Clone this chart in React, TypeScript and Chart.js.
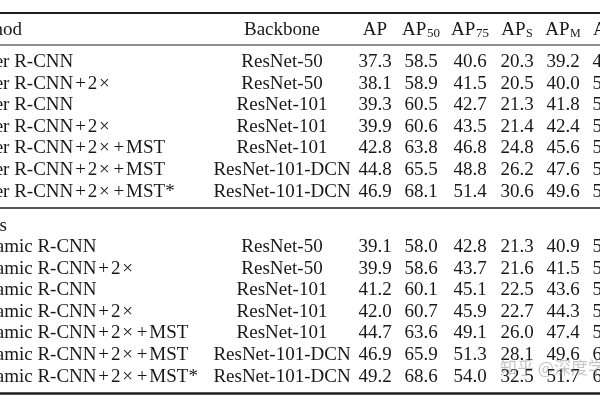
import React, { useEffect, useRef } from "react";
import { Chart, registerables } from "chart.js";
Chart.register(...registerables);

// ---- table content ----
const headers = ["Method", "Backbone", "AP", "AP|50", "AP|75", "AP|S", "AP|M", "AP|L"];
const groupLabel = "Ours";
const baselineMethods = [
  "Faster R-CNN",
  "Faster R-CNN+2×",
  "Faster R-CNN",
  "Faster R-CNN+2×",
  "Faster R-CNN+2×+MST",
  "Faster R-CNN+2×+MST",
  "Faster R-CNN+2×+MST*",
];
const oursMethods = [
  "Dynamic R-CNN",
  "Dynamic R-CNN+2×",
  "Dynamic R-CNN",
  "Dynamic R-CNN+2×",
  "Dynamic R-CNN+2×+MST",
  "Dynamic R-CNN+2×+MST",
  "Dynamic R-CNN+2×+MST*",
];
const backbones = [
  "ResNet-50",
  "ResNet-50",
  "ResNet-101",
  "ResNet-101",
  "ResNet-101",
  "ResNet-101-DCN",
  "ResNet-101-DCN",
];
const baselineAP = [37.3, 38.1, 39.3, 39.9, 42.8, 44.8, 46.9];
const baselineAP50 = [58.5, 58.9, 60.5, 60.6, 63.8, 65.5, 68.1];
const baselineAP75 = [40.6, 41.5, 42.7, 43.5, 46.8, 48.8, 51.4];
const baselineAPS = [20.3, 20.5, 21.3, 21.4, 24.8, 26.2, 30.6];
const baselineAPM = [39.2, 40.0, 41.8, 42.4, 45.6, 47.6, 49.6];
const baselineAPL = [49.1, 50.0, 51.7, 52.1, 55.6, 58.1, 58.1];
const oursAP = [39.1, 39.9, 41.2, 42.0, 44.7, 46.9, 49.2];
const oursAP50 = [58.0, 58.6, 60.1, 60.7, 63.6, 65.9, 68.6];
const oursAP75 = [42.8, 43.7, 45.1, 45.9, 49.1, 51.3, 54.0];
const oursAPS = [21.3, 21.6, 22.5, 22.7, 26.0, 28.1, 32.5];
const oursAPM = [40.9, 41.5, 43.6, 44.3, 47.4, 49.6, 51.7];
const oursAPL = [50.3, 53.0, 53.2, 54.3, 57.2, 60.0, 62.3];
const watermark = "知乎 @深度学习";

// ---- layout (pixel space of the scales) ----
const colX = [-37, 282, 375, 421, 470, 517, 563, 609];
const groupX = -30;
const colAlign: CanvasTextAlign[] = ["left", "center", "center", "center", "center", "center", "center", "center"];
const headerY = 30;
const baseRow0 = 62;
const groupY = 226;
const oursRow0 = 247;
const rowStep = 21.6;
const rules = [
  { y: 13, w: 2 },
  { y: 45, w: 1 },
  { y: 208, w: 1.5 },
  { y: 393.5, w: 2.5 },
];
const FONT = '"Liberation Serif", "Times New Roman", serif';
const SIZE = 19;
const TEXT = "#181818";
const MATH_W = 0.76; // em advance for + and × (math spacing)

function fmt(v: number) {
  return v.toFixed(1);
}

function richWidth(ctx: CanvasRenderingContext2D, s: string) {
  let w = 0;
  for (const part of s.split(/([+×])/)) {
    if (!part) continue;
    if (part === "+" || part === "×") w += MATH_W * SIZE;
    else w += ctx.measureText(part).width;
  }
  return w;
}

function drawRich(ctx: CanvasRenderingContext2D, s: string, x: number, y: number, align: CanvasTextAlign) {
  const total = richWidth(ctx, s);
  let cx = align === "center" ? x - total / 2 : x;
  for (const part of s.split(/([+×])/)) {
    if (!part) continue;
    if (part === "+" || part === "×") {
      ctx.textAlign = "center";
      ctx.fillText(part, cx + (MATH_W * SIZE) / 2, y);
      cx += MATH_W * SIZE;
    } else {
      ctx.textAlign = "left";
      ctx.fillText(part, cx, y);
      cx += ctx.measureText(part).width;
    }
  }
}

export default function App() {
  const ref = useRef<HTMLCanvasElement | null>(null);
  useEffect(() => {
    const canvas = ref.current;
    if (!canvas) return;

    const columns: string[][] = [
      [...baselineMethods, ...oursMethods],
      [...backbones, ...backbones],
      [...baselineAP, ...oursAP].map(fmt),
      [...baselineAP50, ...oursAP50].map(fmt),
      [...baselineAP75, ...oursAP75].map(fmt),
      [...baselineAPS, ...oursAPS].map(fmt),
      [...baselineAPM, ...oursAPM].map(fmt),
      [...baselineAPL, ...oursAPL].map(fmt),
    ];
    const rowYs: number[] = [];
    for (let i = 0; i < baselineMethods.length; i++) rowYs.push(baseRow0 + i * rowStep);
    for (let i = 0; i < oursMethods.length; i++) rowYs.push(oursRow0 + i * rowStep);

    const datasets: any[] = columns.map((col, ci) => ({
      label: headers[ci],
      data: col.map((_, ri) => ({ x: colX[ci], y: rowYs[ri] })),
      texts: col,
      colIndex: ci,
      pointRadius: 0,
      showLine: false,
    }));
    datasets.push({
      label: "header",
      data: headers.map((_, ci) => ({ x: colX[ci], y: headerY })),
      texts: headers,
      pointRadius: 0,
      isHeader: true,
    });
    datasets.push({
      label: "group",
      data: [{ x: groupX, y: groupY }],
      texts: [groupLabel],
      colIndex: 0,
      pointRadius: 0,
    });

    const tablePlugin = {
      id: "tableText",
      afterDatasetsDraw(chart: any) {
        const ctx: CanvasRenderingContext2D = chart.ctx;
        const xs = chart.scales.x;
        const ys = chart.scales.y;
        ctx.save();
        ctx.strokeStyle = "#1e1e1e";
        for (const r of rules) {
          ctx.lineWidth = r.w;
          const py = ys.getPixelForValue(r.y);
          ctx.beginPath();
          ctx.moveTo(xs.getPixelForValue(0), py);
          ctx.lineTo(xs.getPixelForValue(600), py);
          ctx.stroke();
        }
        ctx.fillStyle = TEXT;
        ctx.textBaseline = "middle";
        chart.data.datasets.forEach((ds: any, di: number) => {
          const meta = chart.getDatasetMeta(di);
          meta.data.forEach((el: any, i: number) => {
            const txt: string = ds.texts[i];
            const ci = ds.isHeader ? i : ds.colIndex;
            const align = colAlign[ci];
            const px = el.x;
            const py = el.y;
            if (txt.includes("|")) {
              const [main, sub] = txt.split("|");
              const subSize = sub === "S" || sub === "M" || sub === "L" ? 12 : 13;
              ctx.font = `${SIZE}px ${FONT}`;
              const w1 = ctx.measureText(main).width;
              ctx.font = `${subSize}px ${FONT}`;
              const w2 = ctx.measureText(sub).width;
              const total = w1 + w2 + 0.5;
              const sx = align === "center" ? px - total / 2 : px;
              ctx.textAlign = "left";
              ctx.font = `${SIZE}px ${FONT}`;
              ctx.fillText(main, sx, py);
              ctx.font = `${subSize}px ${FONT}`;
              ctx.fillText(sub, sx + w1 + 0.5, py + 4);
            } else {
              ctx.font = `${SIZE}px ${FONT}`;
              drawRich(ctx, txt, px, py, align);
            }
          });
        });
        ctx.font = '17px "Noto Sans CJK SC"';
        ctx.fillStyle = "rgba(140,140,140,0.5)";
        ctx.textAlign = "left";
        ctx.fillText(watermark, xs.getPixelForValue(500), ys.getPixelForValue(368));
        ctx.restore();
      },
    };

    const chart = new Chart(canvas, {
      type: "scatter",
      data: { datasets },
      options: {
        responsive: false,
        maintainAspectRatio: false,
        animation: false,
        events: [],
        layout: { padding: 0 },
        scales: {
          x: { type: "linear", min: 0, max: 600, display: false },
          y: { type: "linear", min: 0, max: 400, reverse: true, display: false },
        },
        plugins: { legend: { display: false }, tooltip: { enabled: false } },
      },
      plugins: [tablePlugin],
    } as any);
    return () => chart.destroy();
  }, []);

  return (
    <div style={{ position: "absolute", left: 0, top: 0, width: 600, height: 400, background: "#fff" }}>
      <canvas ref={ref} width={600} height={400} style={{ display: "block", width: 600, height: 400 }} />
    </div>
  );
}
